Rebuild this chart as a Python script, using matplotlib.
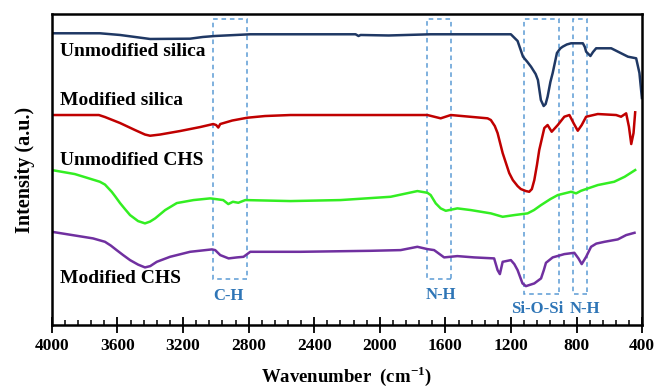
import matplotlib
matplotlib.use("Agg")
import matplotlib.pyplot as plt
from matplotlib.patches import Rectangle
from matplotlib.ticker import MultipleLocator

plt.rcParams['font.family'] = ['Liberation Serif', 'DejaVu Serif']
plt.rcParams['font.weight'] = 'bold'
plt.rcParams['mathtext.fontset'] = 'custom'
plt.rcParams['mathtext.rm'] = 'Liberation Serif:bold'

# FTIR spectra (stacked, arbitrary offsets)
wn_unmod_silica = [4000, 3707, 3584, 3401, 3157, 3079, 3004, 2790, 2148, 2130, 2117, 1946, 1690, 1300,
                   1201, 1160, 1127, 1100, 1078, 1050, 1036, 1018, 1001, 989, 977, 960, 946, 920,
                   900, 885, 860, 834, 762, 750, 742, 716, 700, 681, 589, 487, 437, 417, 402]
int_unmod_silica = [291.7, 291.7, 290, 286, 286.3, 288, 289, 290.7, 290.7, 289, 290, 289.5, 290.7, 290.7,
                    290.7, 284, 268.3, 263, 258.3, 251, 245, 225, 219, 221, 228.3, 243, 252, 272,
                    276.5, 278.3, 280.5, 281.7, 281.7, 278, 273.3, 269, 273, 276.7, 276.7, 268.3, 266.7,
                    252, 227]

wn_mod_silica = [4000, 3713, 3676, 3584, 3493, 3432, 3401, 3340, 3218, 3095, 3016, 2998, 2985, 2973,
                 2900, 2808, 2700, 2545, 1710, 1629, 1567, 1343, 1323, 1299, 1282, 1251, 1211, 1189,
                 1160, 1140, 1109, 1089, 1073, 1058, 1042, 1028, 997, 977, 952, 915, 875, 844,
                 818, 793, 769, 742, 671, 559, 529, 498, 481, 467, 453, 443]
int_mod_silica = [210, 210, 208, 202, 195, 190.5, 189.3, 190.5, 194, 198, 201, 200, 197.5, 201,
                  204.5, 207.3, 209, 210, 210, 206.7, 210, 206.7, 205, 199, 192, 172, 152, 145,
                  139, 136, 134, 133.3, 136, 145, 160, 175, 197, 200, 193.3, 200, 208.3, 210,
                  201.7, 194.3, 200, 208.3, 211, 210, 208.3, 211.7, 198.3, 181, 192, 212.7]

wn_unmod_chs = [4000, 3860, 3790, 3707, 3676, 3635, 3615, 3584, 3554, 3523, 3474, 3432, 3401, 3370,
                3309, 3238, 3136, 3034, 2955, 2924, 2896, 2863, 2820, 2545, 2240, 1934, 1771, 1710,
                1690, 1659, 1629, 1598, 1527, 1445, 1323, 1251, 1180, 1099, 1060, 1017, 960, 915,
                834, 803, 773, 671, 571, 507, 443]
int_unmod_chs = [155, 151, 147.5, 143.3, 140.5, 133.3, 129, 122, 116, 110, 104, 101.7, 103.5, 106.7,
                 115, 122, 125, 126.7, 125, 121, 123.3, 122.3, 125, 124, 125, 128.3, 134, 132.3,
                 130, 121.7, 116.7, 114.3, 116.7, 115, 111.7, 108.3, 110, 111.7, 115, 120, 126, 130,
                 133.3, 131.7, 134.3, 140, 143.3, 148.3, 155]

wn_mod_chs = [4000, 3749, 3676, 3640, 3605, 3565, 3523, 3474, 3432, 3400, 3360, 3279, 3157, 3024,
              3004, 2973, 2922, 2871, 2831, 2790, 2484, 2056, 1873, 1771, 1710, 1669, 1608, 1527,
              1425, 1303, 1282, 1268, 1251, 1201, 1180, 1160, 1130, 1109, 1058, 1017, 1000, 987,
              946, 875, 814, 789, 769, 742, 712, 680, 630, 549, 498, 447]
int_mod_chs = [93.3, 86.7, 83.3, 79.5, 75, 70, 65, 60.5, 57.7, 59, 63.3, 68.3, 73.3, 75.7,
               75, 70, 66.7, 67.7, 68.3, 73.3, 73.3, 74.3, 75, 78.3, 76, 75, 67.7, 69,
               67.7, 66.7, 55, 51, 63.3, 65, 61, 55, 41.7, 39, 41.7, 46.7, 55, 62.3,
               67.7, 71, 72.3, 66.7, 61, 68.3, 78.3, 81.5, 83.3, 85.7, 90, 92.3]

# band regions: label, box edges (wavenumber), box lower edge, label position
band_names = ['C-H', 'N-H', 'Si-O-Si', 'N-H']
band_hi = [3020, 1710, 1123, 824]
band_lo = [2810, 1563, 907, 736]
band_bottom = [46, 46, 31, 31]
band_label_x = [2924, 1629, 1040, 752]
band_label_y = [29, 30, 16, 16]
box_top = 305.5

fig = plt.figure(figsize=(6.56, 3.88), dpi=100)
ax = fig.add_axes([0.079, 0.162, 0.900, 0.802])

ax.plot(wn_unmod_silica, int_unmod_silica, color='#1f3864', lw=1.8)
ax.plot(wn_mod_silica, int_mod_silica, color='#c00000', lw=1.8)
ax.plot(wn_unmod_chs, int_unmod_chs, color='#33ee22', lw=1.8)
ax.plot(wn_mod_chs, int_mod_chs, color='#7030a0', lw=1.8)

for name, hi, lo, bot, lx, ly in zip(band_names, band_hi, band_lo, band_bottom,
                                     band_label_x, band_label_y):
    ax.add_patch(Rectangle((lo, bot), hi - lo, box_top - bot, fill=False,
                           edgecolor='#5b9bd5', lw=1.1, linestyle=(0, (3, 2.5))))
    ax.text(lx, ly, name, color='#2e75b6', fontsize=12,
            fontweight='bold', ha='center', va='center')

ax.text(3951, 273, 'Unmodified silica', fontsize=14, fontweight='bold', va='center')
ax.text(3951, 225, 'Modified silica', fontsize=14, fontweight='bold', va='center')
ax.text(3951, 165, 'Unmodified CHS', fontsize=14, fontweight='bold', va='center')
ax.text(3951, 47, 'Modified CHS', fontsize=14, fontweight='bold', va='center')

ax.set_xlim(4000, 400)
ax.set_ylim(0, 311)
ax.xaxis.set_major_locator(MultipleLocator(400))
ax.xaxis.set_minor_locator(MultipleLocator(80))
ax.tick_params(axis='x', which='major', direction='inout', length=11, width=1.3,
               labelsize=12.5, pad=4)
ax.tick_params(axis='x', which='minor', direction='in', length=3.5, width=1.1)
ax.set_yticks([])
for lab in ax.get_xticklabels():
    lab.set_fontweight('bold')
for s in ax.spines.values():
    s.set_linewidth(1.8)

ax.set_xlabel(r'Wavenumber  (cm$^{\mathregular{-1}}$)', fontsize=13.5, fontweight='bold', labelpad=7)
ax.set_ylabel('Intensity (a.u.)', fontsize=14.5, fontweight='bold', labelpad=12)

fig.savefig('out.png', dpi=100)
